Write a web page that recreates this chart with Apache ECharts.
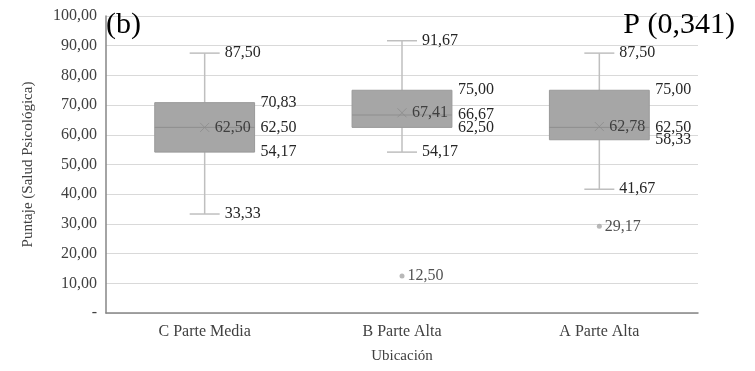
<!DOCTYPE html>
<html>
<head>
<meta charset="utf-8">
<script src="https://cdn.jsdelivr.net/npm/echarts@6/dist/echarts.min.js"></script>
<style>html,body{margin:0;padding:0;background:#fff}#c{width:755px;height:371px}</style>
</head>
<body>
<div id="c"></div>
<script>
const categories = ['C Parte Media', 'B Parte Alta', 'A Parte Alta'];
const minVals = [33.33, 54.17, 41.67];
const q1Vals = [54.17, 62.50, 58.33];
const medianVals = [62.50, 66.67, 62.50];
const q3Vals = [70.83, 75.00, 75.00];
const maxVals = [87.50, 91.67, 87.50];
const meanVals = [62.50, 67.41, 62.78];
const outlierPoints = [[1, 12.50], [2, 29.17]];
const yTicks = [0, 10, 20, 30, 40, 50, 60, 70, 80, 90, 100];

const FONT = '"Liberation Serif", "Times New Roman", serif';
const fmt = v => v.toFixed(2).replace('.', ',');

const boxData = categories.map((c, i) => [i, minVals[i], q1Vals[i], medianVals[i], q3Vals[i], maxVals[i]]);

const chart = echarts.init(document.getElementById('c'));

function renderBox(params, api) {
  const i = api.value(0);
  const bw = api.size([1, 0])[0];
  const half = bw * 0.253;
  const cap = 15;
  const pMin = api.coord([i, api.value(1)]);
  const pQ1 = api.coord([i, api.value(2)]);
  const pMed = api.coord([i, api.value(3)]);
  const pQ3 = api.coord([i, api.value(4)]);
  const pMax = api.coord([i, api.value(5)]);
  const x = pMed[0];
  const whisk = { stroke: '#bfbfbf', lineWidth: 1.5 };
  const txt = (t, px, py) => ({
    type: 'text',
    style: { text: t, x: px, y: py, fill: '#262626', font: '16px ' + FONT, textVerticalAlign: 'middle', textAlign: 'left' }
  });
  return {
    type: 'group',
    children: [
      { type: 'line', shape: { x1: x, y1: pMax[1], x2: x, y2: pQ3[1] }, style: whisk },
      { type: 'line', shape: { x1: x, y1: pQ1[1], x2: x, y2: pMin[1] }, style: whisk },
      { type: 'line', shape: { x1: x - cap, y1: pMax[1], x2: x + cap, y2: pMax[1] }, style: whisk },
      { type: 'line', shape: { x1: x - cap, y1: pMin[1], x2: x + cap, y2: pMin[1] }, style: whisk },
      { type: 'rect', shape: { x: x - half, y: pQ3[1], width: half * 2, height: pQ1[1] - pQ3[1] },
        style: { fill: '#a6a6a6', stroke: '#999999', lineWidth: 1 } },
      { type: 'line', shape: { x1: x - half, y1: pMed[1], x2: x + half, y2: pMed[1] }, style: { stroke: '#8f8f8f', lineWidth: 1 } },
      txt(fmt(api.value(5)), x + cap + 5, pMax[1]),
      txt(fmt(api.value(1)), x + cap + 5, pMin[1]),
      txt(fmt(api.value(4)), x + half + 6, pQ3[1]),
      txt(fmt(api.value(3)), x + half + 6, pMed[1]),
      txt(fmt(api.value(2)), x + half + 6, pQ1[1])
    ]
  };
}

chart.setOption({
  animation: false,
  backgroundColor: '#fff',
  title: [
    { text: '(b)', left: 101, top: 5, textStyle: { fontFamily: FONT, fontSize: 30, fontWeight: 'normal', color: '#000' } },
    { text: 'P (0,341)', right: 15, top: 5, textStyle: { fontFamily: FONT, fontSize: 30, fontWeight: 'normal', color: '#000' } }
  ],
  grid: { left: 106, right: 57, top: 16, bottom: 58, containLabel: false, outerBoundsMode: 'none' },
  xAxis: {
    type: 'category',
    data: categories,
    name: 'Ubicación',
    nameLocation: 'middle',
    nameGap: 36,
    nameTextStyle: { fontFamily: FONT, fontSize: 15, color: '#404040' },
    axisLine: { lineStyle: { color: '#868686', width: 1.5 } },
    axisTick: { show: false },
    axisLabel: { fontFamily: FONT, fontSize: 16, color: '#404040', margin: 11 },
    splitLine: { show: false }
  },
  yAxis: {
    type: 'value',
    min: 0, max: 100, interval: 10,
    name: 'Puntaje (Salud Psicológica)',
    nameLocation: 'middle',
    nameGap: 70,
    nameTextStyle: { fontFamily: FONT, fontSize: 15, color: '#404040' },
    axisLine: { show: true, lineStyle: { color: '#868686', width: 1.5 } },
    axisTick: { show: false },
    axisLabel: {
      fontFamily: FONT, fontSize: 16, color: '#404040', margin: 9,
      formatter: v => (v === 0 ? '-' : fmt(v))
    },
    splitLine: { lineStyle: { color: '#d9d9d9', width: 1 } }
  },
  series: [
    {
      type: 'custom',
      renderItem: renderBox,
      data: boxData,
      encode: { x: 0, y: [1, 2, 3, 4, 5] },
      z: 2
    },
    {
      type: 'scatter',
      data: meanVals.map((v, i) => [i, v]),
      symbol: 'path://M0,0L10,10M10,0L0,10',
      symbolSize: 9,
      itemStyle: { color: 'none', borderColor: '#8c8c8c', borderWidth: 1 },
      label: {
        show: true, position: 'right', distance: 3,
        formatter: p => fmt(p.value[1]),
        fontFamily: FONT, fontSize: 16, color: '#262626'
      },
      z: 5
    },
    {
      type: 'scatter',
      data: outlierPoints,
      symbol: 'circle',
      symbolSize: 5,
      itemStyle: { color: '#a6a6a6' },
      label: {
        show: true, position: 'right', distance: 3,
        formatter: p => fmt(p.value[1]),
        fontFamily: FONT, fontSize: 16, color: '#262626'
      },
      z: 5
    }
  ]
});
</script>
</body>
</html>
